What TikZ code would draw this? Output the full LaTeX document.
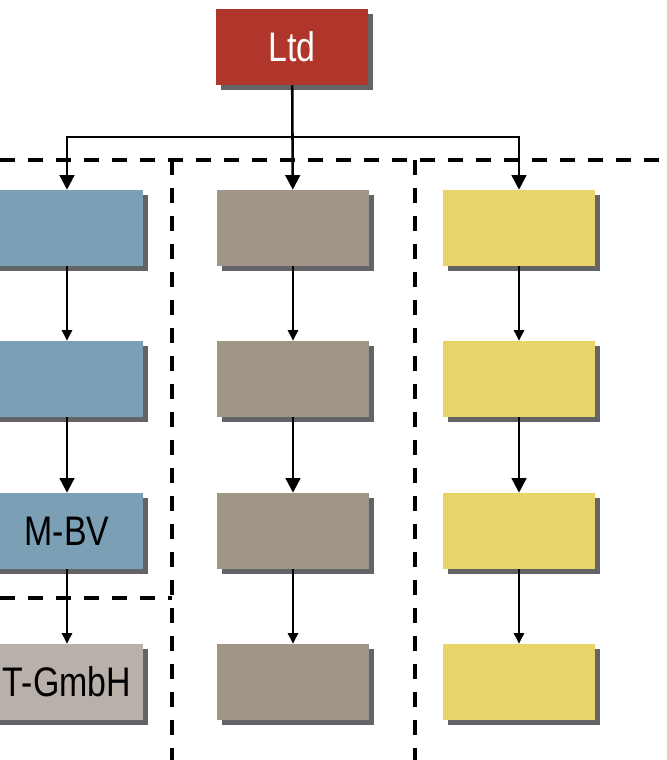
\documentclass[tikz,border=0pt]{standalone}
\usepackage{fontspec}
\setmainfont[FakeStretch=0.82]{Liberation Sans}
\usetikzlibrary{arrows.meta,shadows}

\definecolor{ltdred}{HTML}{B0352A}
\definecolor{boxblue}{HTML}{7BA0B5}
\definecolor{boxtaupe}{HTML}{A09587}
\definecolor{boxyellow}{HTML}{E8D468}
\definecolor{boxlight}{HTML}{B8B0A9}
\definecolor{shadowgray}{HTML}{636468}

\tikzset{
  box/.style={rectangle, inner sep=0pt, minimum width=114pt, minimum height=57pt,
    font=\fontsize{31}{31}\selectfont,
    drop shadow={fill=shadowgray, opacity=1, shadow xshift=3.75pt, shadow yshift=-3.5pt}},
  link/.style={draw, line width=1.9pt, -{Triangle[length=11pt,width=11pt]}},
  shortlink/.style={draw, line width=1.9pt, -{Triangle[length=8pt,width=7.5pt]}},
  border/.style={draw, line width=3.2pt, dash pattern=on 11.25pt off 9.75pt}
}

\begin{document}
\begin{tikzpicture}[x=0.75pt,y=-0.75pt]
  \useasboundingbox (0,0) rectangle (667,760);
  \clip (0,0) rectangle (667,760);

  % company borders
  \draw [border] (0,160) -- (667,160);
  \draw [border] (172,160) -- (172,760);
  \draw [border] (415,160) -- (415,760);
  \draw [border] (0,598) -- (172,598);

  % boxes
  \node [box, fill=ltdred, text=white] (ltd) at (292,47) {Ltd};

  \node [box, fill=boxblue] (b1) at (67,228) {};
  \node [box, fill=boxblue] (b2) at (67,379) {};
  \node [box, fill=boxblue] (b3) at (67,531) {M-BV};
  \node [box, fill=boxlight] (b4) at (67,682) {T-GmbH};

  \node [box, fill=boxtaupe] (g1) at (293,228) {};
  \node [box, fill=boxtaupe] (g2) at (293,379) {};
  \node [box, fill=boxtaupe] (g3) at (293,531) {};
  \node [box, fill=boxtaupe] (g4) at (293,682) {};

  \node [box, fill=boxyellow] (y1) at (519,228) {};
  \node [box, fill=boxyellow] (y2) at (519,379) {};
  \node [box, fill=boxyellow] (y3) at (519,531) {};
  \node [box, fill=boxyellow] (y4) at (519,682) {};

  % links
  \coordinate (split) at (292,137);
  \draw [link] (ltd) -- (g1);
  \draw [link] (split) -| (b1);
  \draw [link] (split) -| (y1);

  \draw [shortlink] (b1) -- (b2);
  \draw [link] (b2) -- (b3);
  \draw [shortlink] (b3) -- (b4);

  \draw [shortlink] (g1) -- (g2);
  \draw [link] (g2) -- (g3);
  \draw [shortlink] (g3) -- (g4);

  \draw [shortlink] (y1) -- (y2);
  \draw [link] (y2) -- (y3);
  \draw [shortlink] (y3) -- (y4);
\end{tikzpicture}
\end{document}
